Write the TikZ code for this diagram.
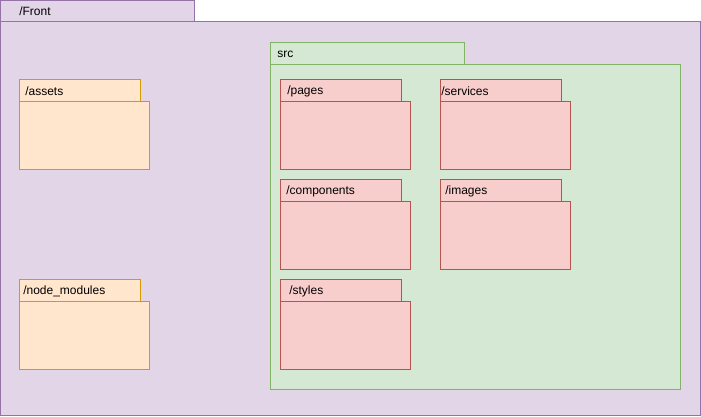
\documentclass[tikz,border=0pt]{standalone}
\usepackage{fontspec}
\setmainfont{Liberation Sans}
\usetikzlibrary{positioning}

\definecolor{frontfill}{RGB}{225,213,231}
\definecolor{frontline}{RGB}{150,115,166}
\definecolor{srcfill}{RGB}{213,232,212}
\definecolor{srcline}{RGB}{130,179,102}
\definecolor{rootfill}{RGB}{255,230,204}
\definecolor{rootline}{RGB}{215,155,0}
\definecolor{subfill}{RGB}{248,206,204}
\definecolor{subline}{RGB}{184,84,80}

\tikzset{
	front/.style={fill=frontfill,draw=frontline,line width=0.75pt},
	srcpkg/.style={fill=srcfill,draw=srcline,line width=0.75pt},
	rootpkg/.style={fill=rootfill,draw=rootline,line width=0.75pt},
	subpkg/.style={fill=subfill,draw=subline,line width=0.75pt},
	tablabel/.style={anchor=west,inner sep=0pt,font=\fontsize{9pt}{11pt}\selectfont,text=black}
}

\begin{document}
\begin{tikzpicture}[x=0.75pt,y=0.75pt,yscale=-1]
	\useasboundingbox (0,0) rectangle (701,417);
	
	%Package: /Front
	\draw [front] (0.5,0.5) rectangle (194,22) ;
	\draw [front] (0.5,22) rectangle (700.5,415.5) ;
	%Package: src
	\draw [srcpkg] (270,43) rectangle (464,65) ;
	\draw [srcpkg] (270,65) rectangle (680,390) ;
	
	%Package: /assets
	\draw [rootpkg] (19,80) rectangle (140,102) ;
	\draw [rootpkg] (19,102) rectangle (149,170) ;
	%Package: /node_modules
	\draw [rootpkg] (19,280) rectangle (140,302) ;
	\draw [rootpkg] (19,302) rectangle (149,370) ;
	
	%Package: /pages
	\draw [subpkg] (280,80) rectangle (401,102) ;
	\draw [subpkg] (280,102) rectangle (410,170) ;
	%Package: /services
	\draw [subpkg] (440,80) rectangle (561,102) ;
	\draw [subpkg] (440,102) rectangle (570,170) ;
	%Package: /components
	\draw [subpkg] (280,180) rectangle (401,202) ;
	\draw [subpkg] (280,202) rectangle (410,270) ;
	%Package: /images
	\draw [subpkg] (440,180) rectangle (561,202) ;
	\draw [subpkg] (440,202) rectangle (570,270) ;
	%Package: /styles
	\draw [subpkg] (280,280) rectangle (401,302) ;
	\draw [subpkg] (280,302) rectangle (410,370) ;
	
	% Text Node
	\node (front) [tablabel] at (19,11) {/Front};
	% Text Node
	\node (src) [tablabel] at (277,54) {src};
	% Text Node
	\node (assets) [tablabel] at (25,91) {/assets};
	% Text Node
	\node (nodemodules) [tablabel] at (23,291) {/node\_modules};
	% Text Node
	\node (pages) [tablabel] at (287,91) {/pages};
	% Text Node
	\node (services) [tablabel] at (441,91) {/services};
	% Text Node
	\node (components) [tablabel] at (286,191) {/components};
	% Text Node
	\node (images) [tablabel] at (445,191) {/images};
	% Text Node
	\node (styles) [tablabel] at (289,291) {/styles};
	
\end{tikzpicture}
\end{document}
